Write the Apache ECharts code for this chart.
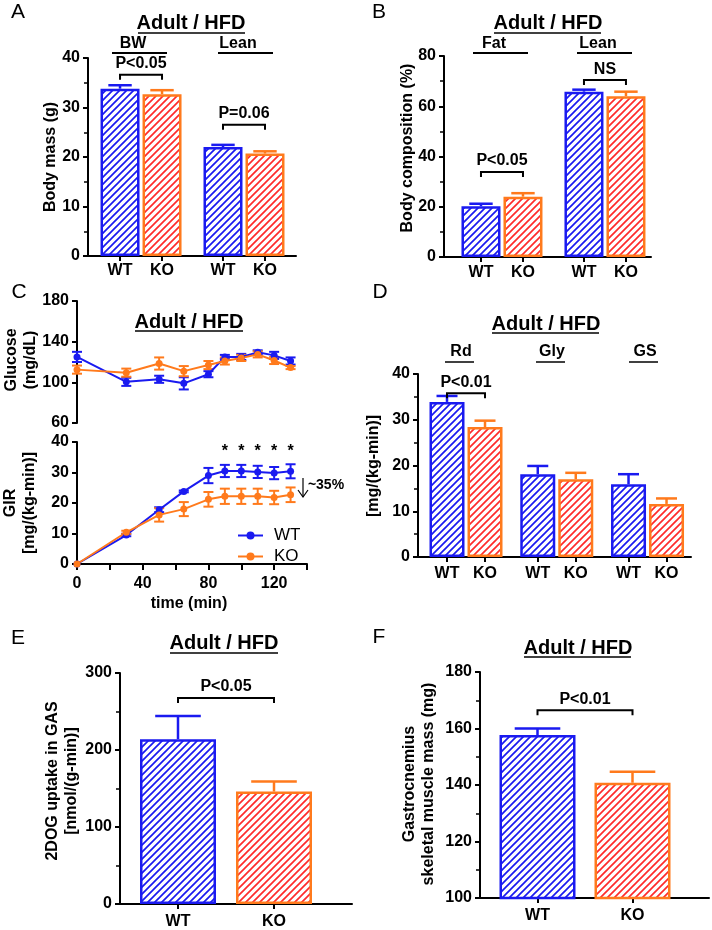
<!DOCTYPE html>
<html>
<head>
<meta charset="utf-8">
<script src="https://cdn.jsdelivr.net/npm/echarts@6/dist/echarts.min.js"></script>
<style>
html, body { margin: 0; padding: 0; background: #fff; }
#chart { width: 712px; height: 930px; }
</style>
</head>
<body>
<div id="chart"></div>
<script>
// values
const groupsA = ['BW', 'Lean'];
const massWT = [33.8, 22.0];
const massWTErr = [0.7, 0.45];
const massKO = [32.7, 20.7];
const massKOErr = [0.8, 0.45];
const pA = ['P<0.05', 'P=0.06'];

const groupsB = ['Fat', 'Lean'];
const compWT = [20.2, 65.8];
const compWTErr = [1.0, 0.8];
const compKO = [24.0, 64.0];
const compKOErr = [1.4, 1.8];
const pB = ['P<0.05', 'NS'];

const times = [0, 30, 50, 65, 80, 90, 100, 110, 120, 130];
const gluWT = [125, 100.5, 103, 99, 108, 125, 125, 129.5, 126.5, 121];
const gluWTErr = [5, 4, 3.5, 6, 3, 2, 3, 2, 3.5, 3.5];
const gluKO = [112.5, 109.5, 118.5, 111, 117, 121, 124, 127.5, 121.5, 114.5];
const gluKOErr = [4, 4, 6, 5, 4, 3.5, 3, 3, 3.5, 1.5];
const girWT = [0, 9.5, 17.8, 23.8, 29, 30.5, 30.5, 30.2, 29.8, 30.4];
const girWTErr = [0, 0.4, 0.8, 0.3, 2.5, 2, 2, 2, 2, 2.3];
const girKO = [0, 10.4, 16.1, 18.0, 21.2, 22.2, 22.2, 22.2, 21.8, 22.7];
const girKOErr = [0, 0.5, 2.2, 2.3, 2.4, 2.5, 2.5, 2.5, 2.2, 2.4];
const starTimes = [90, 100, 110, 120, 130];

const groupsD = ['Rd', 'Gly', 'GS'];
const fluxWT = [33.9, 18.1, 15.9];
const fluxWTErr = [1.3, 1.8, 2.2];
const fluxKO = [28.4, 17.0, 11.6];
const fluxKOErr = [1.4, 1.4, 1.2];
const pD = ['P<0.01'];

const uptakeWT = [214];
const uptakeWTErr = [30];
const uptakeKO = [146];
const uptakeKOErr = [13];
const pE = ['P<0.05'];

const gasWT = [157.7];
const gasWTErr = [2.3];
const gasKO = [140.8];
const gasKOErr = [3.9];
const pF = ['P<0.01'];

const FONT = '"Liberation Sans", Arial, Helvetica, sans-serif';
const BLUE = '#1a1af0';
const ORANGE = '#ff7a1c';
const RED = '#ff2b2b';
const AX = { color: '#000', width: 2 };

// diagonal hatch tile
function hatch(color) {
  const s = 7;
  const c = document.createElement('canvas');
  c.width = s; c.height = s;
  const ctx = c.getContext('2d');
  ctx.fillStyle = '#fff';
  ctx.fillRect(0, 0, s, s);
  ctx.strokeStyle = color;
  ctx.lineWidth = 1.7;
  ctx.beginPath();
  ctx.moveTo(-1, s + 1); ctx.lineTo(s + 1, -1);
  ctx.moveTo(-1, 1); ctx.lineTo(1, -1);
  ctx.moveTo(s - 1, s + 1); ctx.lineTo(s + 1, s - 1);
  ctx.stroke();
  return c;
}
const blueFill = { image: hatch(BLUE), repeat: 'repeat' };
const redFill = { image: hatch(RED), repeat: 'repeat' };

const grids = [], xAxes = [], yAxes = [], series = [];

function yAxis(idx, min, max, interval, minor) {
  return {
    type: 'value', gridIndex: idx, min: min, max: max, interval: interval,
    axisLine: { show: true, onZero: false, lineStyle: AX },
    axisTick: { show: true, length: 5, lineStyle: AX },
    minorTick: { show: minor, splitNumber: 2, length: 4, lineStyle: { color: '#000', width: 1.5 } },
    splitLine: { show: false },
    axisLabel: { fontSize: 16, fontWeight: 'bold', color: '#000', fontFamily: FONT, margin: 8 }
  };
}

function barPanel(L, wt, wtErr, ko, koErr, brackets) {
  const idx = grids.length;
  const unit = L.grid.width / (L.xMax - L.xMin);
  const half = (L.barW + L.gap) / 2 / unit;
  const ticks = [];
  wt.forEach((v, i) => { ticks.push(i - half, i + half); });
  grids.push(L.grid);
  xAxes.push({
    type: 'value', gridIndex: idx, min: L.xMin, max: L.xMax,
    axisLine: { show: true, onZero: false, lineStyle: AX },
    axisTick: { show: true, customValues: ticks, length: 5, lineStyle: AX },
    axisLabel: {
      customValues: ticks, margin: L.labelMargin,
      formatter: v => (v < Math.round(v) ? 'WT' : 'KO'),
      fontSize: 16, fontWeight: 'bold', color: '#000', fontFamily: FONT
    },
    splitLine: { show: false }
  });
  yAxes.push(yAxis(idx, L.y[0], L.y[1], L.y[2], true));
  const gapPct = (L.gap / L.barW * 100) + '%';
  series.push({
    type: 'bar', name: 'barWT', xAxisIndex: idx, yAxisIndex: idx, silent: true,
    barWidth: L.barW, barGap: gapPct,
    data: wt.map((v, i) => [i, v]),
    itemStyle: { color: blueFill, borderColor: BLUE, borderWidth: 2.5 }
  });
  series.push({
    type: 'bar', name: 'barKO', xAxisIndex: idx, yAxisIndex: idx, silent: true,
    barWidth: L.barW, barGap: gapPct,
    data: ko.map((v, i) => [i, v]),
    itemStyle: { color: redFill, borderColor: ORANGE, borderWidth: 2.5 }
  });
  series.push(barErr(idx, L, wt, wtErr, -1, BLUE));
  series.push(barErr(idx, L, ko, koErr, 1, ORANGE));
  series.push({
    type: 'custom', xAxisIndex: idx, yAxisIndex: idx, silent: true, z: 5,
    data: brackets.map(b => [b.g, b.y]),
    renderItem: (p, api) => {
      const c = api.coord([api.value(0), api.value(1)]);
      const h = (L.barW + L.gap) / 2;
      const x1 = c[0] - h, x2 = c[0] + h, y = c[1];
      return {
        type: 'group', children: [
          { type: 'polyline', shape: { points: [[x1, y + 5], [x1, y], [x2, y], [x2, y + 5]] },
            style: { stroke: '#000', lineWidth: 2, fill: null } },
          { type: 'text', style: { text: brackets[p.dataIndex].text, x: c[0], y: y - 3,
            align: 'center', verticalAlign: 'bottom', fill: '#000',
            font: 'bold 16px ' + FONT } }
        ]
      };
    }
  });
}

function barErr(idx, L, vals, errs, side, color) {
  return {
    type: 'custom', xAxisIndex: idx, yAxisIndex: idx, silent: true, z: 3,
    data: vals.map((v, i) => [i, v, errs[i]]),
    renderItem: (p, api) => {
      const off = side * (L.barW + L.gap) / 2;
      const a = api.coord([api.value(0), api.value(1)]);
      const b = api.coord([api.value(0), api.value(1) + api.value(2)]);
      const x = a[0] + off, cap = L.barW * 0.3;
      return {
        type: 'group', children: [
          { type: 'line', shape: { x1: x, y1: a[1], x2: x, y2: b[1] }, style: { stroke: color, lineWidth: 2.5 } },
          { type: 'line', shape: { x1: x - cap, y1: b[1], x2: x + cap, y2: b[1] }, style: { stroke: color, lineWidth: 2.5 } }
        ]
      };
    }
  };
}

function lineErr(idx, vals, errs, color) {
  return {
    type: 'custom', xAxisIndex: idx, yAxisIndex: idx, silent: true, z: 3,
    data: vals.map((v, i) => [times[i], v, errs[i]]),
    renderItem: (p, api) => {
      if (!api.value(2)) return null;
      const lo = api.coord([api.value(0), api.value(1) - api.value(2)]);
      const hi = api.coord([api.value(0), api.value(1) + api.value(2)]);
      const x = lo[0], cap = 5;
      const st = { stroke: color, lineWidth: 2 };
      return {
        type: 'group', children: [
          { type: 'line', shape: { x1: x, y1: lo[1], x2: x, y2: hi[1] }, style: st },
          { type: 'line', shape: { x1: x - cap, y1: lo[1], x2: x + cap, y2: lo[1] }, style: st },
          { type: 'line', shape: { x1: x - cap, y1: hi[1], x2: x + cap, y2: hi[1] }, style: st }
        ]
      };
    }
  };
}

function lineSeries(idx, name, vals, color) {
  return {
    type: 'line', name: name, xAxisIndex: idx, yAxisIndex: idx, silent: true, z: 4,
    data: vals.map((v, i) => [times[i], v]),
    symbol: 'circle', symbolSize: 7,
    lineStyle: { color: color, width: 2 }, itemStyle: { color: color }
  };
}

// A
barPanel({ grid: { left: 88, top: 58, width: 208, height: 198 }, xMin: -0.515, xMax: 1.505,
  y: [0, 40, 10], barW: 39, gap: 3, labelMargin: 7 },
  massWT, massWTErr, massKO, massKOErr,
  [{ g: 0, y: 36.6, text: pA[0] }, { g: 1, y: 26.5, text: pA[1] }]);
// B
barPanel({ grid: { left: 444, top: 56, width: 207, height: 201 }, xMin: -0.563, xMax: 1.447,
  y: [0, 80, 20], barW: 39, gap: 3, labelMargin: 8 },
  compWT, compWTErr, compKO, compKOErr,
  [{ g: 0, y: 33.8, text: pB[0] }, { g: 1, y: 70.4, text: pB[1] }]);

// C top (glucose) and bottom (GIR)
const iC1 = grids.length;
grids.push({ left: 77, top: 301, width: 230, height: 122 });
xAxes.push({ type: 'value', gridIndex: iC1, min: 0, max: 140, show: false });
yAxes.push(yAxis(iC1, 60, 180, 40, false));
const iC2 = grids.length;
grids.push({ left: 77, top: 442, width: 230, height: 122 });
xAxes.push({
  type: 'value', gridIndex: iC2, min: 0, max: 140, interval: 20,
  axisLine: { show: true, onZero: false, lineStyle: AX },
  axisTick: { show: true, length: 6, lineStyle: AX },
  splitLine: { show: false },
  axisLabel: { formatter: v => (v % 40 === 0 ? String(v) : ''), margin: 12,
    fontSize: 16, fontWeight: 'bold', color: '#000', fontFamily: FONT }
});
yAxes.push(yAxis(iC2, 0, 40, 10, false));
series.push(lineErr(iC2, girWT, girWTErr, BLUE));
series.push(lineErr(iC2, girKO, girKOErr, ORANGE));
series.push(lineSeries(iC2, 'WT', girWT, BLUE));
series.push(lineSeries(iC2, 'KO', girKO, ORANGE));
series.push(lineErr(iC1, gluWT, gluWTErr, BLUE));
series.push(lineErr(iC1, gluKO, gluKOErr, ORANGE));
series.push(lineSeries(iC1, 'WT', gluWT, BLUE));
series.push(lineSeries(iC1, 'KO', gluKO, ORANGE));
series.push({
  type: 'custom', xAxisIndex: iC2, yAxisIndex: iC2, silent: true,
  data: starTimes.map(t => [t, 36.8]),
  renderItem: (p, api) => {
    const c = api.coord([api.value(0), api.value(1)]);
    return { type: 'text', style: { text: '*', x: c[0], y: c[1], align: 'center', verticalAlign: 'middle',
      fill: '#000', font: 'bold 16px ' + FONT } };
  }
});

// D
barPanel({ grid: { left: 418, top: 374, width: 273, height: 183 }, xMin: -0.529, xMax: 2.479,
  y: [0, 40, 10], barW: 35, gap: 3, labelMargin: 9 },
  fluxWT, fluxWTErr, fluxKO, fluxKOErr,
  [{ g: 0, y: 35.8, text: pD[0] }]);
// E
barPanel({ grid: { left: 120, top: 673, width: 232, height: 231 }, xMin: -1.06, xMax: 1.26,
  y: [0, 300, 100], barW: 76, gap: 20, labelMargin: 10 },
  uptakeWT, uptakeWTErr, uptakeKO, uptakeKOErr,
  [{ g: 0, y: 267.5, text: pE[0] }]);
// F
barPanel({ grid: { left: 480, top: 672, width: 229, height: 226 }, xMin: -1.05, xMax: 1.24,
  y: [100, 180, 20], barW: 76, gap: 19, labelMargin: 10 },
  gasWT, gasWTErr, gasKO, gasKOErr,
  [{ g: 0, y: 166.5, text: pF[0] }]);

// annotations
const g = [];
function txt(x, y, text, font, extra) {
  g.push(Object.assign({ type: 'text', x: x, y: y, silent: true,
    style: { text: text, font: font, fill: '#000', align: 'center', verticalAlign: 'middle', lineHeight: 19 } }, extra || {}));
}
function hline(x1, x2, y, w) {
  g.push({ type: 'line', silent: true, shape: { x1: x1, y1: y, x2: x2, y2: y }, style: { stroke: '#000', lineWidth: w || 2 } });
}
const LET = '21px ' + FONT, TIT = 'bold 20px ' + FONT, LAB = 'bold 16px ' + FONT;
txt(18, 12, 'A', LET); txt(379, 12, 'B', LET); txt(19, 292, 'C', LET);
txt(380, 292, 'D', LET); txt(18, 638, 'E', LET); txt(379, 637, 'F', LET);
txt(191, 23, 'Adult / HFD', TIT); hline(138, 245, 33, 1.5);
txt(548, 23, 'Adult / HFD', TIT); hline(494, 601, 33, 1.5);
txt(189, 322, 'Adult / HFD', TIT); hline(135, 243, 331, 1.5);
txt(546, 324, 'Adult / HFD', TIT); hline(492, 599, 333, 1.5);
txt(224, 643, 'Adult / HFD', TIT); hline(170, 278, 653, 1.5);
txt(578, 648, 'Adult / HFD', TIT); hline(524, 631, 657, 1.5);
// group headers
txt(133, 44, groupsA[0], LAB); hline(112, 167, 53);
txt(238, 44, groupsA[1], LAB); hline(218, 273, 53);
txt(494, 44, groupsB[0], LAB); hline(473, 528, 53);
txt(598, 44, groupsB[1], LAB); hline(577, 632, 53);
txt(461, 352, groupsD[0], LAB); hline(445, 474, 362, 1.5);
txt(552, 352, groupsD[1], LAB); hline(536, 565, 362, 1.5);
txt(645, 352, groupsD[2], LAB); hline(629, 658, 362, 1.5);
// y titles
const R = { rotation: Math.PI / 2 };
txt(51, 157, 'Body mass (g)', LAB, R);
txt(408, 148, 'Body composition (%)', LAB, R);
txt(21, 360, 'Glucose\n(mg/dL)', LAB, R);
txt(20, 503, 'GIR\n[mg/(kg-min)]', LAB, R);
txt(374, 466, '[mg/(kg-min)]', LAB, R);
txt(62, 781, '2DOG uptake in GAS\n[nmol/(g-min)]', LAB, R);
txt(419, 784, 'Gastrocnemius\nskeletal muscle mass (mg)', LAB, R);
// x title C
txt(189, 604, 'time (min)', LAB);
// ~35% arrow
g.push({ type: 'polyline', silent: true, shape: { points: [[303, 478], [303, 497]] }, style: { stroke: '#000', lineWidth: 1.2, fill: null } });
g.push({ type: 'polyline', silent: true, shape: { points: [[298, 490], [303, 497], [308, 490]] }, style: { stroke: '#000', lineWidth: 1.2, fill: null } });
txt(326, 485, '~35%', 'bold 14px ' + FONT);

const option = {
  animation: false,
  backgroundColor: '#fff',
  textStyle: { fontFamily: FONT },
  grid: grids,
  xAxis: xAxes,
  yAxis: yAxes,
  legend: {
    data: ['WT', 'KO'], orient: 'vertical', left: 232, top: 522,
    itemWidth: 25, itemHeight: 10, itemGap: 4, selectedMode: false,
    textStyle: { fontSize: 17, color: '#000', fontFamily: FONT, padding: [0, 0, 0, 6] }
  },
  graphic: g,
  series: series
};

const myChart = echarts.init(document.getElementById('chart'));
myChart.setOption(option);
</script>
</body>
</html>
